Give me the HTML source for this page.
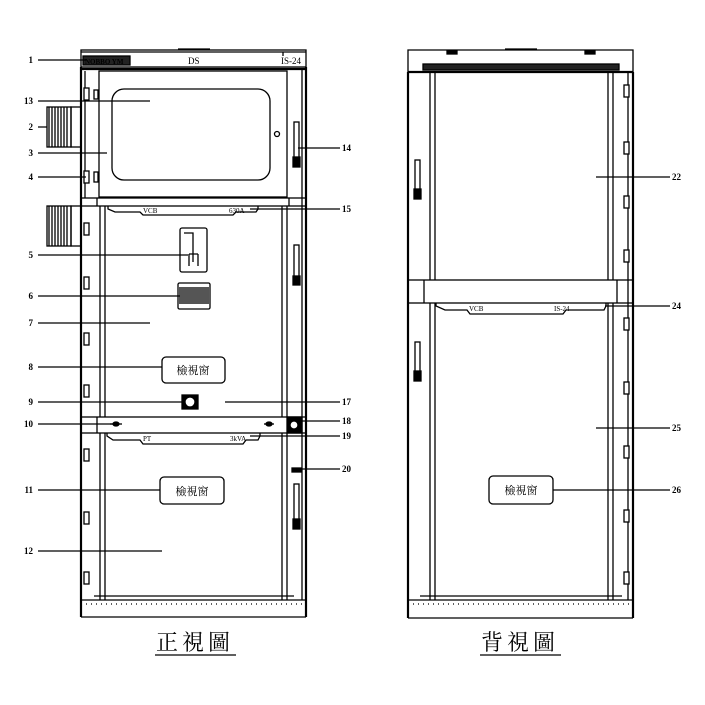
<!DOCTYPE html>
<html><head><meta charset="utf-8"><style>
html,body{margin:0;padding:0;background:#fff;}
svg{display:block;}
text{font-family:"Liberation Serif","Noto Serif CJK SC",serif;fill:#000;}
</style></head><body>
<svg width="705" height="705" viewBox="0 0 705 705" xmlns="http://www.w3.org/2000/svg">
<g fill="none" stroke="#000" stroke-width="1.3">
<!-- ================= FRONT ================= -->
<rect x="81" y="50" width="225" height="17"/>
<line x1="81" y1="52" x2="306" y2="52"/>
<line x1="178" y1="49" x2="210" y2="49"/>
<rect x="83" y="56" width="47" height="9" fill="#222"/>
<line x1="283" y1="52" x2="283" y2="56"/>
<line x1="81" y1="67" x2="81" y2="617" stroke-width="2.2"/>
<line x1="306" y1="67" x2="306" y2="617" stroke-width="2.2"/>
<line x1="302" y1="69" x2="302" y2="600"/>
<line x1="81" y1="69" x2="306" y2="69" stroke-width="2.2"/>
<rect x="99" y="71" width="188" height="126"/>
<line x1="85" y1="71" x2="85" y2="198"/>
<rect x="112" y="89" width="158" height="91" rx="12"/>
<circle cx="277" cy="134" r="2.5"/>
<g fill="#fff">
<rect x="84" y="88" width="5" height="12"/><rect x="94" y="90" width="4" height="9"/>
<rect x="84" y="171" width="5" height="12"/><rect x="94" y="172" width="4" height="10"/>
<rect x="84" y="223" width="5" height="12"/>
<rect x="84" y="277" width="5" height="12"/>
<rect x="84" y="333" width="5" height="12"/>
<rect x="84" y="385" width="5" height="12"/>
<rect x="84" y="449" width="5" height="12"/>
<rect x="84" y="512" width="5" height="12"/>
<rect x="84" y="572" width="5" height="12"/>
</g>
<rect x="47" y="107" width="24" height="40"/><rect x="71" y="107" width="10" height="40"/>
<path d="M49 107 V147 M52 107 V147 M55 107 V147 M58 107 V147 M61 107 V147 M64 107 V147 M67 107 V147" />
<rect x="47" y="206" width="24" height="40"/><rect x="71" y="206" width="10" height="40"/>
<path d="M49 206 V246 M52 206 V246 M55 206 V246 M58 206 V246 M61 206 V246 M64 206 V246 M67 206 V246"/>
<rect x="294" y="122" width="5" height="36"/><rect x="293" y="157" width="7" height="10" fill="#000"/>
<rect x="294" y="245" width="5" height="32"/><rect x="293" y="276" width="7" height="9" fill="#000"/>
<rect x="294" y="484" width="5" height="36"/><rect x="293" y="519" width="7" height="10" fill="#000"/>
<rect x="292" y="468" width="9" height="4" fill="#000"/>
<rect x="81" y="198" width="225" height="8"/>
<line x1="97" y1="198" x2="97" y2="206"/><line x1="289" y1="198" x2="289" y2="206"/>
<path d="M108 206 L108 209 L115 212 L140 212 L143 215 L233 215 L236 212 L256 212 L258 209 L258 206"/>
<line x1="100" y1="206" x2="100" y2="417"/><line x1="105" y1="206" x2="105" y2="417"/>
<line x1="282" y1="206" x2="282" y2="417"/><line x1="287" y1="206" x2="287" y2="417"/>
<rect x="180" y="228" width="27" height="44" rx="2"/>
<path d="M184 233 H193 V262 M189 254 V266 M198 254 V266 M189 254 H198"/>
<rect x="178" y="283" width="32" height="26" rx="1.5"/>
<rect x="179" y="287" width="30" height="17" fill="#555" stroke="none"/>
<rect x="162" y="357" width="63" height="26" rx="4"/>
<rect x="182" y="395" width="16" height="14" fill="#000"/><circle cx="190" cy="402" r="5" fill="#fff"/>
<rect x="81" y="417" width="225" height="16"/>
<line x1="97" y1="417" x2="97" y2="433"/>
<ellipse cx="116" cy="424" rx="3" ry="2" fill="#000"/><line x1="110" y1="424" x2="122" y2="424"/>
<ellipse cx="269" cy="424" rx="3" ry="2" fill="#000"/><line x1="264" y1="424" x2="274" y2="424"/>
<rect x="287" y="417" width="15" height="16" fill="#000"/><circle cx="294" cy="425" r="4" fill="#fff"/>
<path d="M107 433 L107 436 L113 440 L140 440 L143 444 L243 444 L246 440 L258 440 L260 436 L260 433"/>
<line x1="100" y1="433" x2="100" y2="600"/><line x1="105" y1="433" x2="105" y2="600"/>
<line x1="282" y1="433" x2="282" y2="600"/><line x1="287" y1="433" x2="287" y2="600"/>
<rect x="160" y="477" width="64" height="27" rx="4"/>
<line x1="81" y1="600" x2="306" y2="600"/>
<line x1="81" y1="604" x2="306" y2="604" stroke-dasharray="1 4"/>
<line x1="81" y1="617" x2="306" y2="617"/>
<line x1="94" y1="596" x2="294" y2="596"/>
<path d="M38 60 H86 M38 101 H150 M38 127 H47 M38 153 H107 M38 177 H86 M38 255 H188 M38 296 H180 M38 323 H150 M38 367 H162 M38 402 H185 M38 424 H113 M38 490 H160 M38 551 H162"/>
<path d="M298 148 H340 M250 209 H340 M225 402 H340 M298 421 H340 M250 436 H340 M298 469 H340"/>
<!-- ================= BACK ================= -->
<path d="M408 72 V50 H633 V72"/>
<line x1="505" y1="49" x2="537" y2="49"/>
<rect x="447" y="51" width="10" height="3" fill="#000"/><rect x="585" y="51" width="10" height="3" fill="#000"/>
<rect x="423" y="64" width="196" height="6" fill="#222"/>
<line x1="408" y1="72" x2="408" y2="618" stroke-width="2.2"/>
<line x1="633" y1="72" x2="633" y2="618" stroke-width="2.2"/>
<line x1="408" y1="72" x2="633" y2="72" stroke-width="2.2"/>
<line x1="628" y1="72" x2="628" y2="600"/>
<line x1="430" y1="72" x2="430" y2="280"/><line x1="435" y1="72" x2="435" y2="280"/>
<line x1="608" y1="72" x2="608" y2="280"/><line x1="613" y1="72" x2="613" y2="280"/>
<rect x="408" y="280" width="225" height="23"/>
<line x1="424" y1="280" x2="424" y2="303"/><line x1="617" y1="280" x2="617" y2="303"/>
<path d="M436 303 L436 306 L445 310 L467 310 L470 314 L563 314 L566 310 L604 310 L606 306 L606 303"/>
<line x1="430" y1="303" x2="430" y2="600"/><line x1="435" y1="303" x2="435" y2="600"/>
<line x1="608" y1="303" x2="608" y2="600"/><line x1="613" y1="303" x2="613" y2="600"/>
<rect x="415" y="160" width="5" height="30"/><rect x="414" y="189" width="7" height="10" fill="#000"/>
<rect x="415" y="342" width="5" height="30"/><rect x="414" y="371" width="7" height="10" fill="#000"/>
<g fill="#fff">
<rect x="624" y="85" width="5" height="12"/><rect x="624" y="142" width="5" height="12"/>
<rect x="624" y="196" width="5" height="12"/><rect x="624" y="250" width="5" height="12"/>
<rect x="624" y="318" width="5" height="12"/><rect x="624" y="382" width="5" height="12"/>
<rect x="624" y="446" width="5" height="12"/><rect x="624" y="510" width="5" height="12"/>
<rect x="624" y="572" width="5" height="12"/>
</g>
<rect x="489" y="476" width="64" height="28" rx="4"/>
<line x1="408" y1="600" x2="633" y2="600"/>
<line x1="408" y1="604" x2="633" y2="604" stroke-dasharray="1 4"/>
<line x1="408" y1="618" x2="633" y2="618"/>
<line x1="420" y1="596" x2="622" y2="596"/>
<path d="M596 177 H670 M605 306 H670 M596 428 H670 M553 490 H670"/>
<line x1="155" y1="655" x2="236" y2="655"/>
<line x1="480" y1="655" x2="561" y2="655"/>
</g>
<g font-size="9">
<text x="85" y="64" font-size="7" fill="#fff" font-weight="bold">NOBBO YM</text>
<text x="188" y="64">DS</text>
<text x="281" y="64">IS-24</text>
<text x="143" y="213" font-size="7">VCB</text>
<text x="229" y="213" font-size="7">630A</text>
<text x="143" y="441" font-size="7">PT</text>
<text x="230" y="441" font-size="7">3kVA</text>
<text x="469" y="311" font-size="7">VCB</text>
<text x="554" y="311" font-size="7">IS-24</text>
<g font-weight="bold">
<g text-anchor="end">
<text x="33" y="63">1</text><text x="33" y="104">13</text><text x="33" y="130">2</text>
<text x="33" y="156">3</text><text x="33" y="180">4</text><text x="33" y="258">5</text>
<text x="33" y="299">6</text><text x="33" y="326">7</text><text x="33" y="370">8</text>
<text x="33" y="405">9</text><text x="33" y="427">10</text><text x="33" y="493">11</text>
<text x="33" y="554">12</text>
</g>
<text x="342" y="151">14</text><text x="342" y="212">15</text><text x="342" y="405">17</text>
<text x="342" y="424">18</text><text x="342" y="439">19</text><text x="342" y="472">20</text>
<text x="672" y="180">22</text><text x="672" y="309">24</text><text x="672" y="431">25</text><text x="672" y="493">26</text>
</g>
</g>
<g font-size="11" text-anchor="middle">
<text x="193" y="374">檢視窗</text>
<text x="192" y="495">檢視窗</text>
<text x="521" y="494">檢視窗</text>
</g>
<g font-size="22" text-anchor="middle">
<text x="195" y="650" letter-spacing="4">正視圖</text>
<text x="520" y="650" letter-spacing="4">背視圖</text>
</g>
</svg>
</body></html>
